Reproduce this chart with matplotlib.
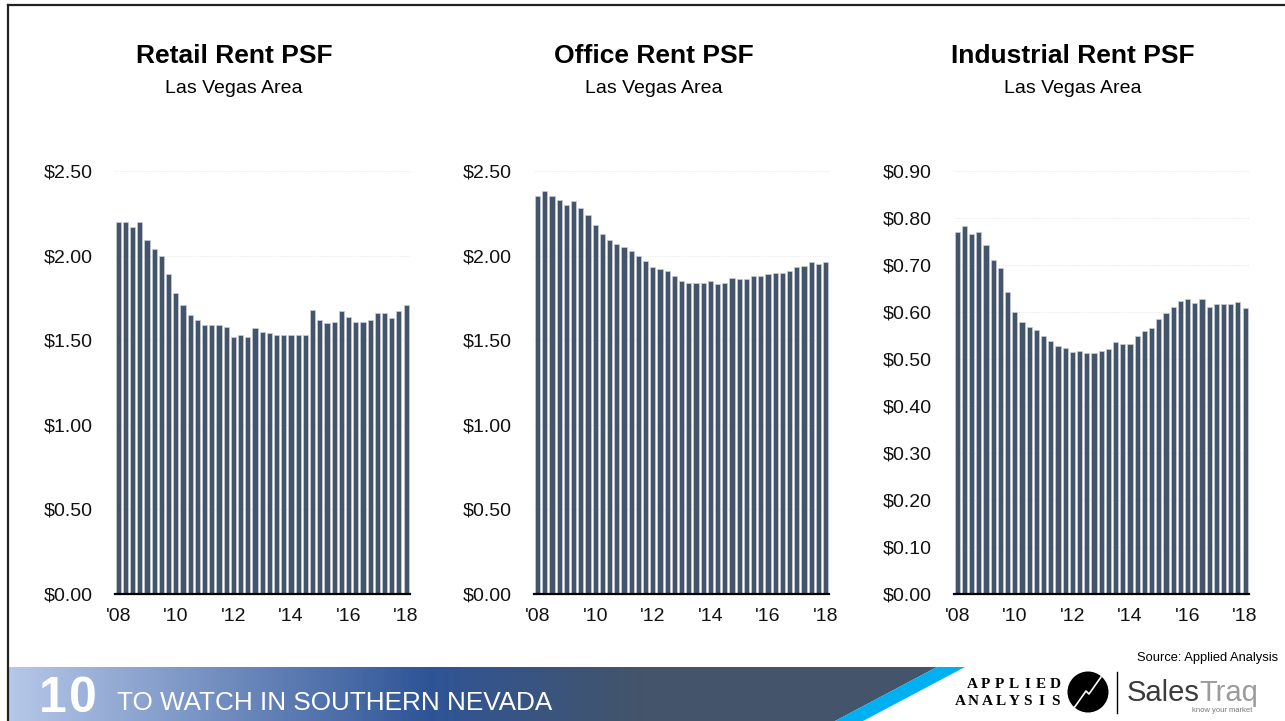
import matplotlib
matplotlib.use('Agg')
import matplotlib.pyplot as plt
from matplotlib import font_manager
from matplotlib.colors import LinearSegmentedColormap
from matplotlib.patches import Polygon, Circle
import numpy as np

# quarterly rents, Q1 2008 .. Q1 2018
retail = [2.20, 2.20, 2.17, 2.20, 2.09, 2.04, 2.00, 1.89, 1.78, 1.71,
          1.65, 1.62, 1.59, 1.59, 1.59, 1.58, 1.52, 1.53, 1.52, 1.57,
          1.55, 1.54, 1.53, 1.53, 1.53, 1.53, 1.53, 1.68, 1.62, 1.60,
          1.61, 1.67, 1.64, 1.61, 1.61, 1.62, 1.66, 1.66, 1.63, 1.67, 1.71]
office = [2.35, 2.38, 2.35, 2.33, 2.30, 2.32, 2.28, 2.24, 2.18, 2.13,
          2.09, 2.07, 2.05, 2.03, 2.00, 1.97, 1.93, 1.92, 1.91, 1.88,
          1.85, 1.84, 1.84, 1.84, 1.85, 1.83, 1.84, 1.87, 1.86, 1.86,
          1.88, 1.88, 1.89, 1.90, 1.90, 1.91, 1.93, 1.94, 1.96, 1.95, 1.96]
industrial = [0.771, 0.782, 0.766, 0.770, 0.742, 0.711, 0.694, 0.643, 0.601, 0.578,
              0.568, 0.561, 0.550, 0.538, 0.527, 0.523, 0.515, 0.516, 0.512, 0.512,
              0.518, 0.522, 0.536, 0.531, 0.532, 0.550, 0.560, 0.567, 0.585, 0.598,
              0.611, 0.623, 0.628, 0.619, 0.628, 0.611, 0.616, 0.618, 0.616, 0.621, 0.609]
year_labels = ["'08", "'10", "'12", "'14", "'16", "'18"]
titles = ['Retail Rent PSF', 'Office Rent PSF', 'Industrial Rent PSF']
subtitle = 'Las Vegas Area'

installed = {f.name for f in font_manager.fontManager.ttflist}
base = 'Liberation Sans' if 'Liberation Sans' in installed else 'DejaVu Sans'
plt.rcParams['font.family'] = [base, 'DejaVu Sans']

W, H = 1285, 721
fig = plt.figure(figsize=(W / 100, H / 100), dpi=100)

bar_color = '#44546a'
lefts = [114.7, 534.1, 953.7]
series = [retail, office, industrial]
yticks = [np.arange(0, 2.51, 0.5), np.arange(0, 2.51, 0.5), np.arange(0, 0.91, 0.1)]
ytop = [2.5, 2.5, 0.9]

for left, vals, ticks, top, title in zip(lefts, series, yticks, ytop, titles):
    ax = fig.add_axes([left / W, 1 - 594 / H, 295 / W, (594 - 171) / H])
    x = np.arange(len(vals))
    for t in ticks[1:]:
        ax.axhline(t, color='#ececec', lw=0.8, ls=(0, (1, 1)), zorder=0)
    ax.bar(x, vals, width=0.72, color=bar_color, edgecolor='#c9ced6', linewidth=0.5, zorder=2)
    ax.set_xlim(-0.5, len(vals) - 0.5)
    ax.set_ylim(0, top)
    ax.set_yticks(ticks)
    ax.set_yticklabels(['${:.2f}'.format(t) for t in ticks])
    ax.set_xticks(np.arange(0, len(vals), 8))
    ax.set_xticklabels(year_labels)
    ax.tick_params(axis='y', length=0, pad=16, labelsize=14, colors='#111111')
    ax.tick_params(axis='x', length=0, pad=10, labelsize=14, colors='#111111')
    for s in ['top', 'right', 'left']:
        ax.spines[s].set_visible(False)
    ax.spines['bottom'].set_color('black')
    ax.spines['bottom'].set_linewidth(1.6)
    ax.spines['bottom'].set_zorder(3)

    cx = (left + 119.5) / W
    fig.text(cx, 1 - 63 / H, title, ha='center', va='baseline',
             fontsize=19, fontweight='bold', color='black')
    fig.text(cx, 1 - 93 / H, subtitle, ha='center', va='baseline',
             fontsize=14, color='black')

# outer frame
fig.add_artist(plt.Line2D([8 / W, 8 / W], [0, 1 - 5 / H], color='#222222', lw=1.6))
fig.add_artist(plt.Line2D([8 / W, 1], [1 - 5 / H, 1 - 5 / H], color='#222222', lw=1.6))

# bottom banner
bh = 54
bax = fig.add_axes([0, 0, 1, bh / H])
bax.set_xlim(0, W)
bax.set_ylim(0, bh)
bax.axis('off')
cmap = LinearSegmentedColormap.from_list('banner', [(0, '#b6c8e8'), (0.45, '#2f5597'),
                                                    (0.68, '#44546a'), (1, '#44546a')])
grad = np.linspace(0, 1, 256).reshape(1, -1)
im = bax.imshow(grad, cmap=cmap, extent=(9, 940, 0, bh), aspect='auto')
clip = Polygon([(9, 0), (9, bh), (937, bh), (835, 0)], closed=True, transform=bax.transData)
im.set_clip_path(clip)
bax.add_patch(Polygon([(835, 0), (937, bh), (965, bh), (863, 0)], closed=True,
                      color='#00b0f0', lw=0))
bax.text(39, 9, '1', color='white', fontsize=36, fontweight='bold', va='baseline', ha='left')
bax.text(69, 9, '0', color='white', fontsize=36, fontweight='bold', va='baseline', ha='left')
bax.text(117, 11, 'TO WATCH IN SOUTHERN NEVADA', color='white', fontsize=18.8,
         va='baseline', ha='left')

# source + logos
fig.text(1278 / W, 1 - 661 / H, 'Source: Applied Analysis', ha='right', va='baseline',
         fontsize=9.3, color='black')
for word, x0, x1, yb in [('APPLIED', 972, 1055, 688), ('ANALYSIS', 960, 1055, 705)]:
    xs = np.linspace(x0, x1, len(word))
    for ch, xc in zip(word, xs):
        fig.text(xc / W, 1 - yb / H, ch, ha='center', va='baseline', fontsize=11,
                 family='Liberation Serif', fontweight='bold', color='black')
bax.add_patch(Circle((1088, 721 - 692), 20.5, color='black', lw=0, clip_on=False))
bax.plot([1074, 1086, 1089, 1101], [721 - 708, 721 - 691, 721 - 694, 721 - 677],
         color='white', lw=1.2, clip_on=False)
bax.plot([1117, 1117], [721 - 713, 721 - 672], color='black', lw=1, clip_on=False)
t1 = fig.text(1127 / W, 1 - 701 / H, 'Sales', ha='left', va='baseline', fontsize=21,
              color='#3b3b3b')
fig.canvas.draw()
bb = t1.get_window_extent()
fig.text(bb.x1 / W, 1 - 701 / H, 'Traq', ha='left', va='baseline', fontsize=21,
         color='#9b9b9b')
fig.text(1222 / W, 1 - 712 / H, 'know your market', ha='center', va='baseline',
         fontsize=5.5, color='#777777')

fig.savefig('out.png', dpi=100)
